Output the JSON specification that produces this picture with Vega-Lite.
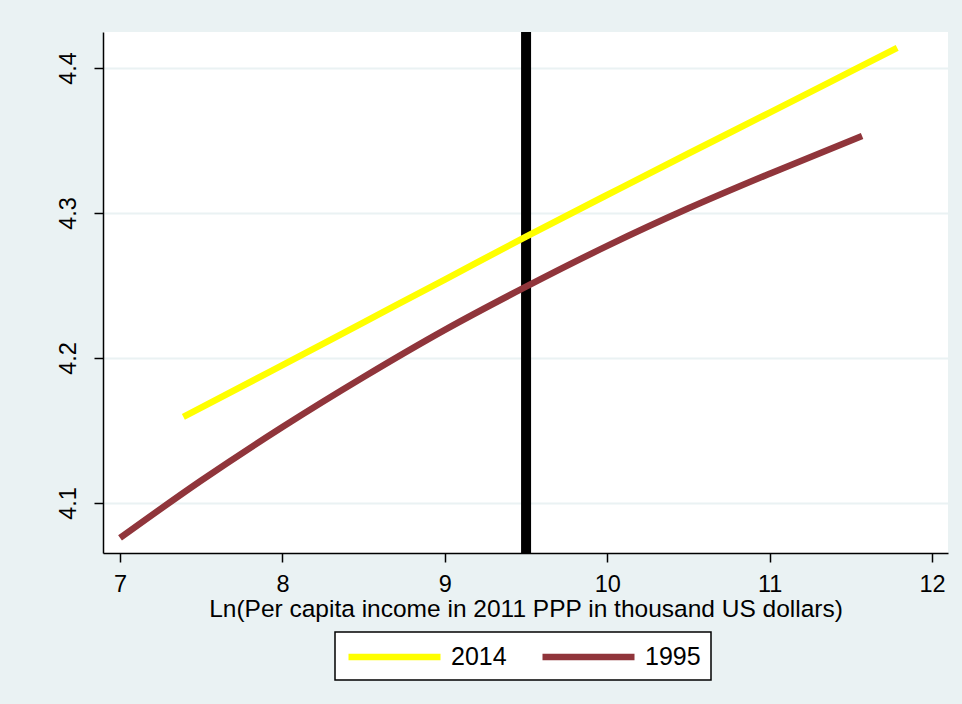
{
  "$schema": "https://vega.github.io/schema/vega-lite/v6.json",
  "width": 845,
  "height": 521,
  "autosize": {"type": "none"},
  "padding": {"left": 103, "top": 32, "right": 14, "bottom": 151},
  "background": "#EAF2F3",
  "config": {
    "font": "Liberation Sans",
    "view": {"fill": "white", "stroke": null}
  },
  "datasets": {
    "curves": [
      {"series": "2014", "x": 7.39, "y": 4.1593},
      {"series": "2014", "x": 7.924, "y": 4.1906},
      {"series": "2014", "x": 8.5, "y": 4.2246},
      {"series": "2014", "x": 9.0, "y": 4.2541},
      {"series": "2014", "x": 9.5, "y": 4.2837},
      {"series": "2014", "x": 10.079, "y": 4.317},
      {"series": "2014", "x": 10.5, "y": 4.341},
      {"series": "2014", "x": 11.0, "y": 4.3692},
      {"series": "2014", "x": 11.5, "y": 4.3976},
      {"series": "2014", "x": 11.785, "y": 4.4138},
      {"series": "1995", "x": 7.0, "y": 4.0759},
      {"series": "1995", "x": 7.5, "y": 4.1155},
      {"series": "1995", "x": 8.0, "y": 4.1524},
      {"series": "1995", "x": 8.5, "y": 4.1869},
      {"series": "1995", "x": 9.0, "y": 4.2194},
      {"series": "1995", "x": 9.5, "y": 4.2492},
      {"series": "1995", "x": 10.0, "y": 4.2773},
      {"series": "1995", "x": 10.5, "y": 4.3032},
      {"series": "1995", "x": 11.0, "y": 4.3271},
      {"series": "1995", "x": 11.569, "y": 4.3531}
    ],
    "threshold": [{"x": 9.5}]
  },
  "layer": [
    {
      "data": {"name": "threshold"},
      "mark": {"type": "rule", "color": "black", "strokeWidth": 10},
      "encoding": {
        "x": {"field": "x", "type": "quantitative", "scale": {"domain": [6.895, 12.098], "nice": false, "zero": false}}
      }
    },
    {
      "data": {"name": "curves"},
      "mark": {"type": "line", "strokeWidth": 6.5, "interpolate": "monotone"},
      "encoding": {
        "x": {
          "field": "x", "type": "quantitative",
          "scale": {"domain": [6.895, 12.098], "nice": false, "zero": false},
          "axis": {
            "values": [7, 8, 9, 10, 11, 12],
            "format": "d",
            "grid": false,
            "domainColor": "black", "domainWidth": 1.5,
            "tickColor": "black", "tickSize": 9, "tickWidth": 1.5,
            "labelFontSize": 23.5, "labelColor": "black", "labelPadding": 10,
            "title": "Ln(Per capita income in 2011 PPP in thousand US dollars)",
            "titleFontSize": 24.5, "titleFontWeight": "normal", "titleColor": "black", "titlePadding": 2
          }
        },
        "y": {
          "field": "y", "type": "quantitative",
          "scale": {"domain": [4.0655, 4.4248], "nice": false, "zero": false},
          "axis": {
            "values": [4.1, 4.2, 4.3, 4.4],
            "format": ".1f",
            "grid": true, "gridColor": "#EAF2F3", "gridWidth": 2,
            "domainColor": "black", "domainWidth": 1.5,
            "tickColor": "black", "tickSize": 9, "tickWidth": 1.5,
            "labelFontSize": 23.5, "labelColor": "black", "labelPadding": 14,
            "labelAngle": -90, "labelAlign": "center", "labelBaseline": "bottom",
            "title": null
          }
        },
        "color": {
          "field": "series", "type": "nominal",
          "scale": {"domain": ["2014", "1995"], "range": ["#FFFF00", "#90353B"]},
          "legend": {
            "title": null,
            "orient": "none", "legendX": 232, "legendY": 600,
            "direction": "horizontal",
            "fillColor": "white", "strokeColor": "black",
            "padding": 10,
            "symbolType": "M-1,0H7", "symbolSize": 529, "symbolStrokeWidth": 6.5,
            "labelFontSize": 25, "labelColor": "black", "labelOffset": 76,
            "columnPadding": 22,
            "encode": {"legend": {"update": {"strokeWidth": {"value": 1.5}}}}
          }
        }
      }
    }
  ]
}
